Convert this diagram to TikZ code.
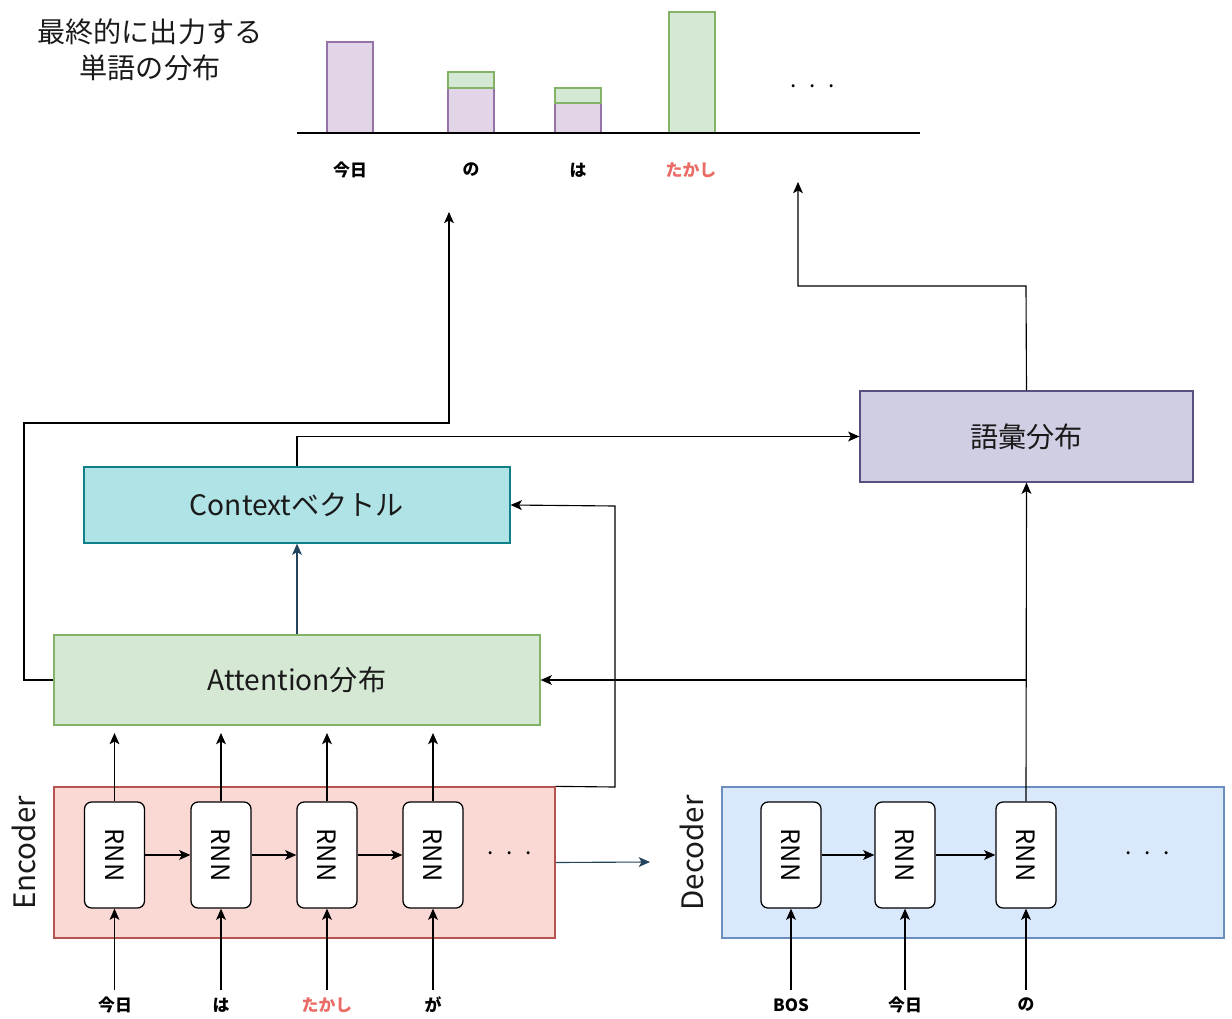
\documentclass[tikz,border=0pt]{standalone}
\usepackage{fontspec}
\setmainfont{Noto Sans CJK JP}
\usetikzlibrary{arrows.meta}
\definecolor{purpFill}{HTML}{E1D5E7}
\definecolor{purpLine}{HTML}{9673A6}
\definecolor{grnFill}{HTML}{D5E8D4}
\definecolor{grnLine}{HTML}{82B366}
\definecolor{vocFill}{HTML}{D0CEE2}
\definecolor{vocLine}{HTML}{56517E}
\definecolor{ctxFill}{HTML}{B0E3E6}
\definecolor{ctxLine}{HTML}{0E8088}
\definecolor{encFill}{HTML}{FAD9D5}
\definecolor{encLine}{HTML}{B85450}
\definecolor{decFill}{HTML}{DAE8FC}
\definecolor{decLine}{HTML}{6C8EBF}
\definecolor{navy}{HTML}{23445D}
\definecolor{hl}{HTML}{EA6B66}
\definecolor{txt}{HTML}{1A1A1A}
\newcommand\threedots{.\hspace{9pt}.\hspace{9pt}.}
\begin{document}
\begin{tikzpicture}[x=0.025cm,y=-0.025cm,
  box/.style={draw,line width=0.9pt,inner sep=0pt,text=txt,font=\fontsize{20}{24}\selectfont},
  rnn/.style={draw,line width=0.9pt,rounded corners=5pt,fill=white,minimum width=60*0.025cm,minimum height=106*0.025cm,inner sep=0pt},
  rnntext/.style={rotate=-90,font=\fontsize{18}{20}\selectfont},
  lbl/.style={font=\fontsize{12}{14}\selectfont\bfseries},
  arr/.style={-{Stealth[length=8pt,width=7pt,inset=2pt]},line width=0.8pt},
  side/.style={rotate=90,font=\fontsize{21}{24}\selectfont,text=txt},
  dots/.style={font=\fontsize{16}{18}\selectfont}]
\useasboundingbox (0,0) rectangle (1232,1019);

% heading
\node[font=\fontsize{20}{26}\selectfont,text=txt,align=center] (title) at (150,50) {最終的に出力する\\単語の分布};

% output histogram
\draw[purpLine,fill=purpFill,line width=0.8pt] (327,133) rectangle (373,42);
\draw[purpLine,fill=purpFill,line width=0.8pt] (448,133) rectangle (494,88);
\draw[grnLine,fill=grnFill,line width=0.8pt] (448,88) rectangle (494,72);
\draw[purpLine,fill=purpFill,line width=0.8pt] (555,133) rectangle (601,103);
\draw[grnLine,fill=grnFill,line width=0.8pt] (555,103) rectangle (601,88);
\draw[grnLine,fill=grnFill,line width=0.8pt] (669,133) rectangle (715,12);
\draw[line width=1pt] (297,133) -- (920,133);
\node[dots] (hdots) at (813,86) {\threedots};
\node[lbl] (o1) at (350,170) {今日};
\node[lbl] (o2) at (471,170) {の};
\node[lbl] (o3) at (578,170) {は};
\node[lbl,text=hl] (o4) at (691,170) {たかし};

% main blocks
\node[box,fill=vocFill,draw=vocLine,minimum width=333*0.025cm,minimum height=91*0.025cm] (voc) at (1026.5,436.5) {語彙分布};
\node[box,fill=ctxFill,draw=ctxLine,minimum width=426*0.025cm,minimum height=76*0.025cm] (ctx) at (297,505) {Contextベクトル};
\node[box,fill=grnFill,draw=grnLine,minimum width=486*0.025cm,minimum height=90*0.025cm] (att) at (297,680) {Attention分布};

% encoder
\node[draw=encLine,fill=encFill,line width=0.9pt,minimum width=501*0.025cm,minimum height=151*0.025cm,inner sep=0pt] (enc) at (304.5,862.5) {};
\node[side] (encl) at (24,853) {Encoder};
\foreach \i/\x in {1/114.5,2/221,3/327,4/433}{
  \node[rnn] (e\i) at (\x,855) {};
  \node[rnntext] at (e\i) {RNN};
}
\node[dots] (edots) at (510,853) {\threedots};

% decoder
\node[draw=decLine,fill=decFill,line width=0.9pt,minimum width=502*0.025cm,minimum height=151*0.025cm,inner sep=0pt] (dec) at (973,862.5) {};
\node[side] (decl) at (692,853) {Decoder};
\foreach \i/\x in {1/791,2/905,3/1026}{
  \node[rnn] (d\i) at (\x,855) {};
  \node[rnntext] at (d\i) {RNN};
}
\node[dots] (ddots) at (1148,853) {\threedots};

% input tokens
\node[lbl] (i1) at (115,1005) {今日};
\node[lbl] (i2) at (221,1005) {は};
\node[lbl,text=hl] (i3) at (327,1005) {たかし};
\node[lbl] (i4) at (433,1005) {が};
\node[lbl] (j1) at (791,1005) {BOS};
\node[lbl] (j2) at (905,1005) {今日};
\node[lbl] (j3) at (1026,1005) {の};

% recurrent links
\draw[arr] (e1) -- (e2);
\draw[arr] (e2) -- (e3);
\draw[arr] (e3) -- (e4);
\draw[arr] (d1) -- (d2);
\draw[arr] (d2) -- (d3);

% inputs into the cells
\foreach \i in {1,2,3,4}{
  \draw[arr] (e\i.south |- 0,990) -- (e\i.south);
}
\foreach \i in {1,2,3}{
  \draw[arr] (d\i.south |- 0,990) -- (d\i.south);
}

% encoder outputs towards attention
\foreach \i in {1,2,3,4}{
  \draw[arr] (e\i.north) -- (e\i.north |- 0,733);
}

% encoder state to decoder
\coordinate (encout) at (650,862);
\draw[arr,navy] (enc.east) -- (encout);

% attention to context
\draw[arr,navy] (att.north) -- (ctx.south);

% encoder hidden states to context
\draw[arr] (enc.north east) -- (615,787) -- (615,506) -- (ctx.east);

% decoder state to vocabulary and attention
\draw[arr] (d3.north) -- (voc.south);
\coordinate (br) at (1026,680);
\draw[arr] (br) -- (att.east);

% context to vocabulary
\draw[arr] (ctx.north) |- (voc.west);

% copy path from attention
\coordinate (copyTip) at (449,212);
\draw[arr] (att.west) -- (24,680) -- (24,423) -- (449,423) -- (copyTip);

% generation path from vocabulary
\coordinate (genTip) at (798,182);
\draw[arr] (voc.north) -- (1026,286) -- (798,286) -- (genTip);
\end{tikzpicture}
\end{document}
